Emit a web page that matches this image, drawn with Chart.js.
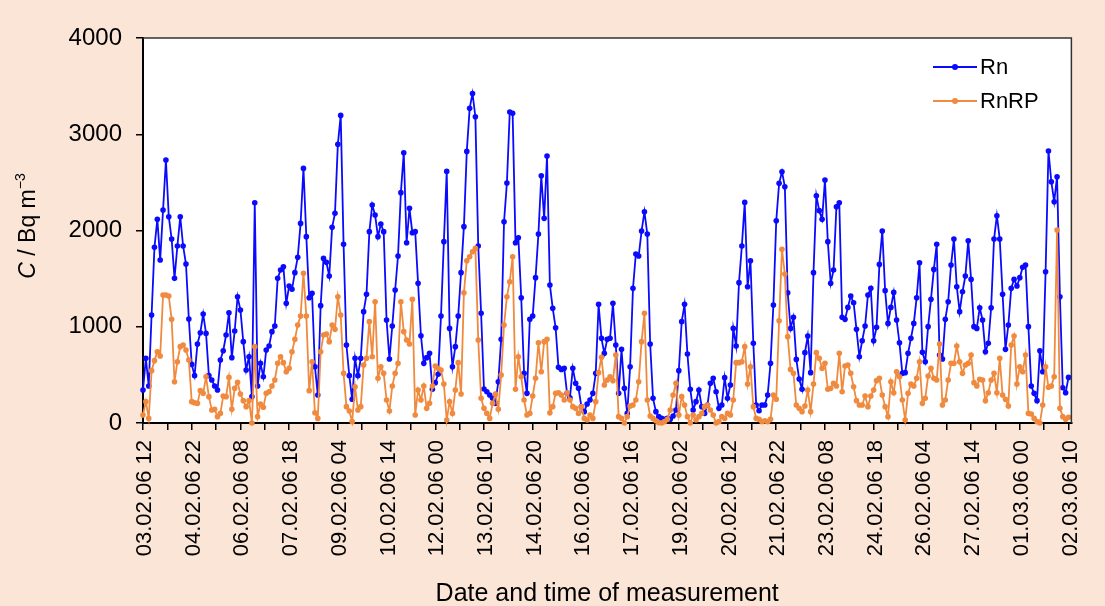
<!DOCTYPE html>
<html>
<head>
<meta charset="utf-8">
<script src="https://cdn.jsdelivr.net/npm/chart.js@4/dist/chart.umd.min.js"></script>
<style>
html,body{margin:0;padding:0;background:#FBE5D6;}
#wrap{width:1105px;height:606px;position:relative;}
</style>
</head>
<body>
<div id="wrap"><canvas id="c" width="1105" height="606"></canvas></div>
<script>
// ---- data (2-hourly measurements from 03.02.06 12:00) ----
const stepHours = 2;
const tickLabels = ["03.02.06 12","04.02.06 22","06.02.06 08","07.02.06 18","09.02.06 04","10.02.06 14","12.02.06 00","13.02.06 10","14.02.06 20","16.02.06 06","17.02.06 16","19.02.06 02","20.02.06 12","21.02.06 22","23.02.06 08","24.02.06 18","26.02.06 04","27.02.06 14","01.03.06 00","02.03.06 10"];
const labelEveryHours = 34;
const tickEveryHours = 17;
const seriesNames = ["Rn", "RnRP"];
const yTitleParts = ["C", " / Bq m", "\u22123"];
const xTitle = "Date and time of measurement";

const rn = [
343,672,384,1122,1825,2116,1693,2213,2732,2143,
1911,1503,1839,2143,1839,1652,1080,609,492,821,
938,1132,931,492,447,384,343,654,751,914,
1146,679,956,1312,1174,845,551,689,274,2289,
384,620,481,758,800,949,1008,1503,1589,1624,
1243,1423,1389,1562,1721,2074,2645,1936,1302,1347,
585,291,1219,1710,1669,1527,2033,2178,2895,3196,
1856,810,492,246,672,492,672,1157,1337,1988,
2265,2161,1936,
2067,1988,1070,665,1008,1382,1735,2393,2808,1873,
2230,1977,1988,1451,907,620,679,724,350,419,
506,1111,1884,2614,983,585,793,1111,1562,2040,
2822,3269,3424,3182,1839,1139,353,325,291,256,
204,429,869,2091,2493,3231,3217,1873,1925,1302,
516,308,1077,1111,1510,1963,2569,2126,2774,1434,
1191,990,578,557,568,308,263,568,412,360,
170,118,197,239,308,516,1233,880,
724,869,880,1243,810,308,765,360,100,585,
1399,1756,1735,1994,2195,1963,821,256,118,66,
48,38,48,38,73,135,544,1053,1233,717,
350,135,222,343,170,100,187,412,464,325,
152,187,471,256,395,983,800,1458,1839,2292,
1416,1686,828,187,128,187,187,291,620,1226,
2101,2490,2611,2455,1354,983,1098,661,457,350,
731,904,523,1562,2361,2206,2116,2524,1884,1451,
1589,2247,2289,1098,1077,1201,1319,
1250,973,689,855,1008,1330,1399,855,994,1648,
1994,1375,1035,1201,1357,1070,834,516,523,724,
880,1035,1302,1665,734,637,1001,1285,1596,1856,
706,665,1077,1260,1641,1911,1416,1157,1364,1527,
1894,1492,1001,983,1198,1070,741,828,1198,1911,
2154,1911,1337,765,1018,1399,1492,1423,1510,1617,
1641,1001,384,308,232,751,533,1572,2825,2507,
2299,2559,1312,367,315,474
];

const rnrp = [
83,222,48,544,648,741,696,1330,1330,1319,
1077,429,637,793,810,758,654,222,211,204,
336,308,481,274,135,142,66,100,280,274,
474,142,360,422,301,232,170,232,0,793,
66,197,163,308,325,384,447,620,689,627,
533,568,741,869,1018,1111,1555,1111,336,637,
107,48,741,914,925,845,1018,973,1312,1122,
516,170,125,14,377,135,170,602,672,1053,
689,1260,464,
585,516,239,125,384,516,620,1260,949,862,
821,1285,83,343,239,384,152,204,384,592,
568,551,405,31,222,100,343,627,301,1354,
1686,1728,1780,1814,862,256,152,100,48,204,
301,142,499,1018,1312,1468,1728,350,689,481,
239,83,100,280,464,834,533,845,869,107,
170,308,315,291,239,315,239,170,152,100,
170,48,31,83,48,222,523,682,
395,447,481,440,706,66,48,0,66,177,
187,239,429,845,1139,239,73,48,24,3,
0,14,38,135,291,412,83,274,187,66,
0,83,31,66,100,170,187,135,83,0,
14,66,48,100,83,239,627,627,637,793,
405,585,170,48,38,14,24,14,38,291,
246,1063,1804,1548,897,557,516,187,152,118,
177,343,118,405,731,672,568,620,350,360,
412,384,724,325,592,602,516,
377,232,187,187,280,170,280,343,440,464,
291,170,66,429,315,533,481,239,31,308,
405,384,464,637,204,256,488,568,464,447,
821,187,239,447,620,620,800,637,516,602,
620,706,419,384,454,447,232,315,447,516,
315,672,291,246,177,810,904,405,585,533,
706,100,93,48,14,0,187,585,371,384,
481,2005,152,66,38,59
];

// ---- styling ----
const BLUE = "#0A0AFF";
const ORANGE = "#F08A3E";
const BG = "#FBE5D6";
const FONT = '"Liberation Sans", Arial, Helvetica, sans-serif';

const toPoints = arr => arr.map((v, i) => ({x: i * stepHours, y: v}));

const bgPlugin = {
  id: 'bg',
  beforeDraw(chart) {
    const {ctx, chartArea: a} = chart;
    ctx.save();
    ctx.fillStyle = BG;
    ctx.fillRect(0, 0, chart.width, chart.height);
    ctx.fillStyle = '#FFFFFF';
    ctx.fillRect(a.left, a.top, a.right - a.left, a.bottom - a.top);
    ctx.restore();
  },
  afterDatasetsDraw(chart) {
    const {ctx, chartArea: a} = chart;
    ctx.save();
    ctx.strokeStyle = '#333333';
    ctx.lineWidth = 1.5;
    ctx.beginPath();
    ctx.moveTo(a.left, a.top);
    ctx.lineTo(a.right, a.top);
    ctx.lineTo(a.right, a.bottom);
    ctx.stroke();
    ctx.restore();
  }
};

const yTitlePlugin = {
  id: 'ytitle',
  afterDraw(chart) {
    const ctx = chart.ctx;
    ctx.save();
    ctx.translate(29, 226);
    ctx.rotate(-Math.PI / 2);
    ctx.fillStyle = '#000';
    ctx.textBaseline = 'middle';
    ctx.textAlign = 'left';
    const parts = [
      {t: yTitleParts[0], f: 'italic 23px ' + FONT, dy: 0},
      {t: yTitleParts[1], f: '23px ' + FONT, dy: 0},
      {t: yTitleParts[2], f: '14px ' + FONT, dy: -8}
    ];
    let total = 0;
    parts.forEach(p => { ctx.font = p.f; p.w = ctx.measureText(p.t).width; total += p.w; });
    let x = -total / 2;
    parts.forEach(p => { ctx.font = p.f; ctx.fillText(p.t, x, p.dy); x += p.w; });
    ctx.restore();
  }
};

const legendPlugin = {
  id: 'customLegend',
  afterDraw(chart) {
    const ctx = chart.ctx;
    const items = [
      {label: seriesNames[0], color: BLUE, y: 67},
      {label: seriesNames[1], color: ORANGE, y: 101}
    ];
    ctx.save();
    items.forEach(it => {
      ctx.strokeStyle = it.color;
      ctx.lineWidth = 1.8;
      ctx.beginPath();
      ctx.moveTo(933, it.y);
      ctx.lineTo(977, it.y);
      ctx.stroke();
      ctx.fillStyle = it.color;
      ctx.beginPath();
      ctx.arc(955, it.y, 3, 0, Math.PI * 2);
      ctx.fill();
      ctx.fillStyle = '#000';
      ctx.font = '22px ' + FONT;
      ctx.textBaseline = 'middle';
      ctx.textAlign = 'left';
      ctx.fillText(it.label, 980, it.y + 1);
    });
    ctx.restore();
  }
};

const lastHour = (rn.length - 1) * stepHours;

new Chart(document.getElementById('c'), {
  type: 'line',
  data: {
    datasets: [
      {
        label: seriesNames[1], data: toPoints(rnrp), order: 0,
        borderColor: ORANGE, backgroundColor: ORANGE, borderWidth: 1.8,
        pointRadius: 2.8, pointBorderWidth: 0, pointBackgroundColor: ORANGE,
        tension: 0, clip: false
      },
      {
        label: seriesNames[0], data: toPoints(rn), order: 1,
        borderColor: BLUE, backgroundColor: BLUE, borderWidth: 1.8,
        pointRadius: 2.8, pointBorderWidth: 0, pointBackgroundColor: BLUE,
        tension: 0, clip: false
      }
    ]
  },
  options: {
    responsive: false,
    animation: false,
    devicePixelRatio: 1,
    layout: {padding: {left: 0, right: 27, top: 38, bottom: 0}},
    plugins: {legend: {display: false}, tooltip: {enabled: false}},
    scales: {
      x: {
        type: 'linear',
        min: 0,
        max: lastHour + 2,
        afterBuildTicks(scale) {
          const t = [];
          for (let h = 0; h <= lastHour; h += tickEveryHours) t.push({value: h});
          scale.ticks = t;
        },
        afterFit(scale) { scale.height = 183; },
        grid: {drawOnChartArea: false, drawTicks: true, tickLength: 7, color: '#000', lineWidth: 1.5},
        border: {display: true, color: '#000', width: 2},
        ticks: {
          autoSkip: false, minRotation: 90, maxRotation: 90, padding: 10, labelOffset: 2,
          color: '#000', font: {family: FONT, size: 22},
          callback: (v) => (v % labelEveryHours === 0 ? tickLabels[v / labelEveryHours] : '')
        },
        title: {display: true, text: xTitle, color: '#000', font: {family: FONT, size: 25}, padding: {top: 0, bottom: -3}}
      },
      y: {
        min: 0, max: 4000,
        afterFit(scale) { scale.width = 143; },
        grid: {drawOnChartArea: false, drawTicks: true, tickLength: 7, color: '#000', lineWidth: 1.5},
        border: {display: true, color: '#000', width: 2},
        ticks: {stepSize: 1000, padding: 14, color: '#000', font: {family: FONT, size: 24},
          callback: (v) => String(v)}
      }
    }
  },
  plugins: [bgPlugin, yTitlePlugin, legendPlugin]
});
</script>
</body>
</html>
